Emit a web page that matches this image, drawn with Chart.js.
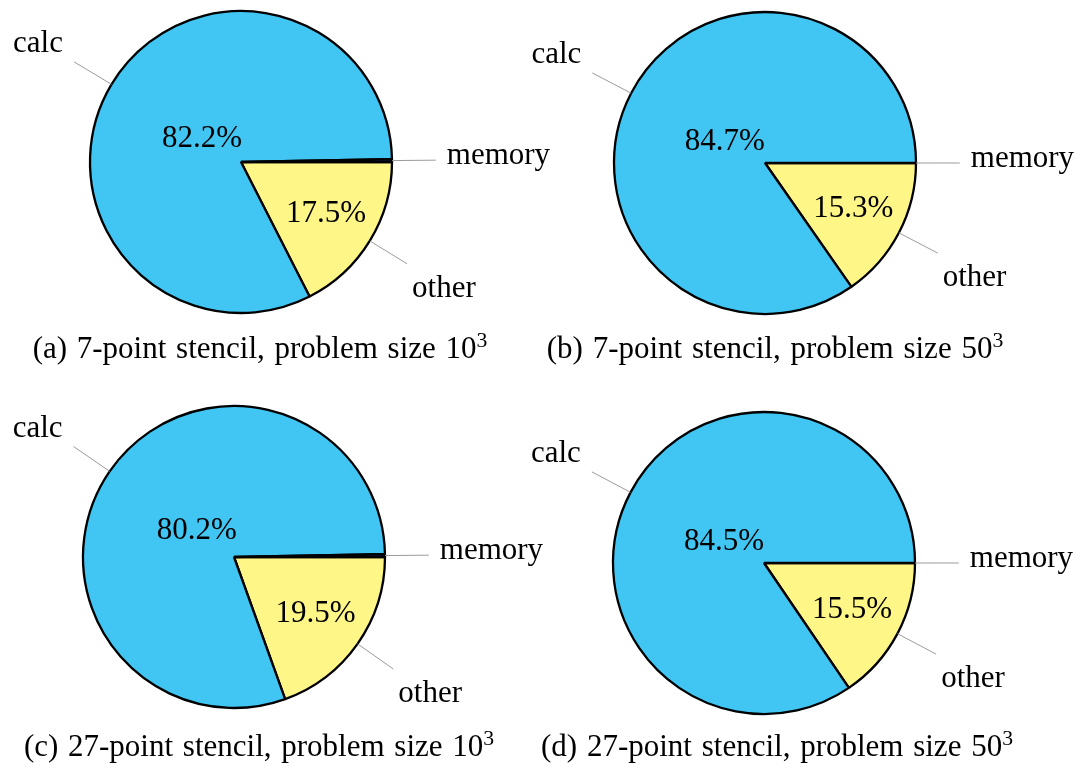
<!DOCTYPE html>
<html>
<head>
<meta charset="utf-8">
<script src="https://cdn.jsdelivr.net/npm/chart.js@4.4.0/dist/chart.umd.min.js"></script>
<style>
  html, body { margin: 0; padding: 0; background: #fff; }
  #wrap { position: relative; width: 1092px; height: 770px; overflow: hidden; }
  #wrap canvas { position: absolute; left: 0; top: 0; }
  .cap {
    position: absolute;
    font-family: "Liberation Serif", "Times New Roman", serif;
    font-size: 31px;
    color: #000;
    white-space: nowrap;
    line-height: 1;
    transform: translateX(-50%);
    word-spacing: 2px;
  }
  .cap sup { font-size: 0.7em; vertical-align: 0.5em; line-height: 0; }
</style>
</head>
<body>
<div id="wrap"></div>
<script>
// Slices in drawing order (clockwise from 3 o'clock)
const categories = ['other', 'calc', 'memory'];

// Share of runtime, percent
const stencil7Size10  = [17.5, 82.2, 0.3];
const stencil7Size50  = [15.3, 84.7, 0.0];
const stencil27Size10 = [19.5, 80.2, 0.3];
const stencil27Size50 = [15.5, 84.5, 0.0];

// Caption texts and the exponent shown on the problem size
const captionTexts = [
  '(a) 7-point stencil, problem size 10',
  '(b) 7-point stencil, problem size 50',
  '(c) 27-point stencil, problem size 10',
  '(d) 27-point stencil, problem size 50'
];
const captionExponent = '3';

const sliceColors = ['#FFF688', '#41C6F4', '#23318C'];

// Panel layout: pie centre, caption anchor
const panels = [
  { values: stencil7Size10,  cx: 241, cy: 162, capX: 260, capY: 332 },
  { values: stencil7Size50,  cx: 765, cy: 163, capX: 775, capY: 332 },
  { values: stencil27Size10, cx: 234, cy: 557, capX: 259, capY: 730 },
  { values: stencil27Size50, cx: 764, cy: 563, capX: 777, capY: 730 }
];
const RADIUS = 151;
const W = 1092, H = 770;

// Radial position of the percentage text inside each slice (fraction of radius)
const pctRadius = { other: 0.66, calc: 0.30, memory: 0 };

const FONT = '"Liberation Serif", "Times New Roman", serif';

const pieLabels = {
  id: 'pieLabels',
  afterDatasetsDraw(chart) {
    const ctx = chart.ctx;
    const meta = chart.getDatasetMeta(0);
    const labels = chart.data.labels;
    const data = chart.data.datasets[0].data;
    ctx.save();
    meta.data.forEach((arc, i) => {
      const p = arc.getProps(['x', 'y', 'startAngle', 'endAngle', 'outerRadius'], true);
      const mid = (p.startAngle + p.endAngle) / 2;
      const c = Math.cos(mid), s = Math.sin(mid);
      const r = p.outerRadius;

      // pin line from the rim outwards
      const x0 = p.x + c * r, y0 = p.y + s * r;
      const x1 = p.x + c * r * 1.29, y1 = p.y + s * r * 1.29;
      ctx.strokeStyle = '#9b9b9b';
      ctx.lineWidth = 1;
      ctx.beginPath();
      ctx.moveTo(x0, y0);
      ctx.lineTo(x1, y1);
      ctx.stroke();

      // category name at the end of the pin
      ctx.fillStyle = '#000';
      ctx.font = '31px ' + FONT;
      ctx.textBaseline = 'alphabetic';
      let tx, ty;
      ctx.textAlign = c >= 0 ? 'left' : 'right';
      if (Math.abs(s) < 0.3) {
        tx = x1 + (c >= 0 ? 11 : -11);
        ty = y1 + 4;
      } else if (s < 0) {
        tx = x1 + (c >= 0 ? 6 : -11);
        ty = y1 - 10;
      } else {
        tx = x1 + (c >= 0 ? 5 : -5);
        ty = y1 + 33;
      }
      ctx.fillText(labels[i], tx, ty);

      // percentage inside the slice
      const f = pctRadius[labels[i]];
      if (f > 0 && data[i] >= 1) {
        ctx.font = '31px ' + FONT;
        ctx.textAlign = 'center';
        ctx.textBaseline = 'middle';
        ctx.fillText(data[i].toFixed(1) + '%', p.x + c * r * f, p.y + s * r * f);
      }
    });
    ctx.restore();
  }
};

const wrap = document.getElementById('wrap');

panels.forEach((pn, k) => {
  const canvas = document.createElement('canvas');
  canvas.width = W; canvas.height = H;
  canvas.style.width = W + 'px'; canvas.style.height = H + 'px';
  wrap.appendChild(canvas);

  const half = RADIUS + 1;
  new Chart(canvas, {
    type: 'pie',
    data: {
      labels: categories,
      datasets: [{
        data: pn.values,
        backgroundColor: sliceColors,
        borderColor: '#000',
        borderWidth: 2.3,
        hoverOffset: 0
      }]
    },
    options: {
      responsive: false,
      animation: false,
      events: [],
      rotation: 90,
      radius: RADIUS,
      layout: {
        padding: {
          left: pn.cx - half,
          top: pn.cy - half,
          right: W - (pn.cx + half),
          bottom: H - (pn.cy + half)
        }
      },
      plugins: {
        legend: { display: false },
        tooltip: { enabled: false },
        title: { display: false }
      }
    },
    plugins: [pieLabels]
  });

  const cap = document.createElement('div');
  cap.className = 'cap';
  cap.style.left = pn.capX + 'px';
  cap.style.top = pn.capY + 'px';
  cap.appendChild(document.createTextNode(captionTexts[k]));
  const sup = document.createElement('sup');
  sup.textContent = captionExponent;
  cap.appendChild(sup);
  wrap.appendChild(cap);
});
</script>
</body>
</html>
